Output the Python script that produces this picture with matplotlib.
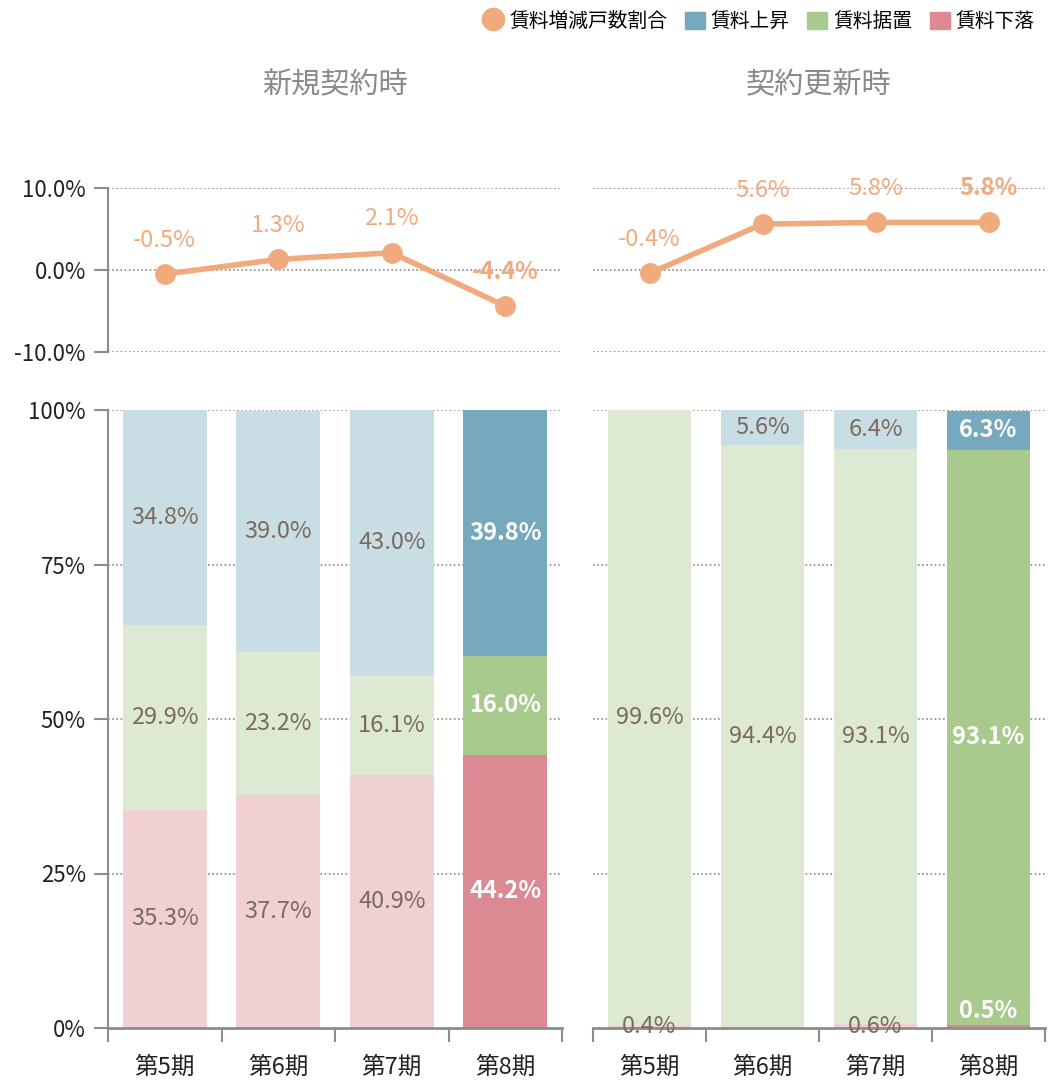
import numpy as np
import matplotlib
matplotlib.use("Agg")
import matplotlib.pyplot as plt
from matplotlib.lines import Line2D
from matplotlib.patches import Patch

plt.rcParams['font.family'] = ['Noto Sans CJK JP', 'DejaVu Sans']

# データ
periods = ["第5期", "第6期", "第7期", "第8期"]
titles = ["新規契約時", "契約更新時"]
series_names = ["賃料増減戸数割合", "賃料上昇", "賃料据置", "賃料下落"]

new_change = [-0.5, 1.3, 2.1, -4.4]
new_down = [35.3, 37.7, 40.9, 44.2]
new_flat = [29.9, 23.2, 16.1, 16.0]
new_up = [34.8, 39.0, 43.0, 39.8]

renew_change = [-0.4, 5.6, 5.8, 5.8]
renew_down = [0.4, 0.0, 0.6, 0.5]
renew_flat = [99.6, 94.4, 93.1, 93.1]
renew_up = [0.0, 5.6, 6.4, 6.3]

# 色
ORANGE = "#F0AA7E"
UP_L, UP_D = "#C9DDE4", "#76A9BD"
FLAT_L, FLAT_D = "#DDE9D3", "#A8CA8C"
DOWN_L, DOWN_D = "#F1D0D4", "#DB8A93"
TXT = "#7A6B5E"
AXC = "#8C8C8C"

W, H = 1048, 1080
fig = plt.figure(figsize=(W / 100, H / 100), dpi=100)


def px_axes(x0, x1, ytop, ybot):
    return fig.add_axes([x0 / W, 1 - ybot / H, (x1 - x0) / W, (ybot - ytop) / H])


def style_grid(ax, yvals):
    for v in yvals:
        ax.axhline(v, color="#8a8a8a", lw=1.2, ls=(0, (1, 1.5)), zorder=0)


def draw_panel(x0, x1, change, down, flat, up, title, show_y):
    # 上段: 折れ線
    axl = px_axes(x0, x1, 188, 352)
    xs = np.arange(len(periods))
    style_grid(axl, [10, 0, -10])
    axl.plot(xs, change, color=ORANGE, lw=4, marker="o", ms=14, zorder=3)
    for i, v in enumerate(change):
        last = i == len(change) - 1
        axl.annotate(f"{v:.1f}%", (i, v), xytext=(0, 24.5), textcoords="offset points",
                     ha="center", va="center", color=ORANGE, fontsize=17,
                     fontweight="bold" if last else "normal", zorder=4)
    axl.set_xlim(-0.5, len(periods) - 0.5)
    axl.set_ylim(-10, 10)
    axl.set_xticks([])
    for s in ["top", "right", "bottom"]:
        axl.spines[s].set_visible(False)
    if show_y:
        axl.set_yticks([10, 0, -10])
        axl.set_yticklabels(["10.0%", "0.0%", "-10.0%"], fontsize=16, color="#222222")
        axl.spines["left"].set_color(AXC)
        axl.spines["left"].set_linewidth(1.5)
        axl.tick_params(axis="y", color=AXC, length=10, width=1.5, pad=6)
    else:
        axl.spines["left"].set_visible(False)
        axl.set_yticks([])
    fig.text((x0 + x1) / 2 / W, 1 - 85 / H, title, ha="center", va="center",
             fontsize=21, color="#8a8a8a")

    # 下段: 100%積み上げ棒
    axb = px_axes(x0, x1, 410, 1028)
    style_grid(axb, [25, 50, 75, 100])
    bw = 0.74
    for i in range(len(periods)):
        last = i == len(periods) - 1
        cols = [DOWN_D, FLAT_D, UP_D] if last else [DOWN_L, FLAT_L, UP_L]
        vals = [down[i], flat[i], up[i]]
        bottom = 0
        for v, c in zip(vals, cols):
            if v > 0:
                axb.bar(i, v, bw, bottom=bottom, color=c, zorder=2)
                ypos = bottom + v / 2
                if v < 3 and last:
                    ypos = bottom + v + 2.2
                axb.text(i, ypos, f"{v:.1f}%", ha="center", va="center",
                         fontsize=17,
                         color="white" if last else TXT,
                         fontweight="bold" if last else "normal", zorder=4)
            bottom += v
    axb.set_xlim(-0.5, len(periods) - 0.5)
    axb.set_ylim(0, 100)
    axb.set_xticks(xs)
    axb.set_xticklabels(periods, fontsize=17, color="#222222")
    axb.set_xticks(np.arange(-0.5, len(periods)), minor=True)
    axb.tick_params(axis="x", which="major", length=0, pad=20)
    axb.tick_params(axis="x", which="minor", length=10, width=1.5, color=AXC)
    for s in ["top", "right"]:
        axb.spines[s].set_visible(False)
    axb.spines["bottom"].set_color(AXC)
    axb.spines["bottom"].set_linewidth(2)
    axb.spines["bottom"].set_zorder(3)
    if show_y:
        axb.set_yticks([0, 25, 50, 75, 100])
        axb.set_yticklabels(["0%", "25%", "50%", "75%", "100%"], fontsize=16, color="#222222")
        axb.spines["left"].set_color(AXC)
        axb.spines["left"].set_linewidth(1.5)
        axb.tick_params(axis="y", color=AXC, length=10, width=1.5, pad=6)
    else:
        axb.spines["left"].set_visible(False)
        axb.set_yticks([])


draw_panel(108, 562, new_change, new_down, new_flat, new_up, titles[0], True)
draw_panel(593, 1045, renew_change, renew_down, renew_flat, renew_up, titles[1], False)

handles = [
    Line2D([], [], color=ORANGE, marker="o", ls="none", ms=16),
    Patch(color=UP_D),
    Patch(color=FLAT_D),
    Patch(color=DOWN_D),
]
fig.legend(handles, series_names, loc="upper right", bbox_to_anchor=(1.004, 1.006),
           ncol=4, frameon=False, fontsize=14.2, handlelength=1.0, handleheight=1.0,
           handletextpad=0.3, columnspacing=0.9)

fig.savefig("out.png", dpi=100)
